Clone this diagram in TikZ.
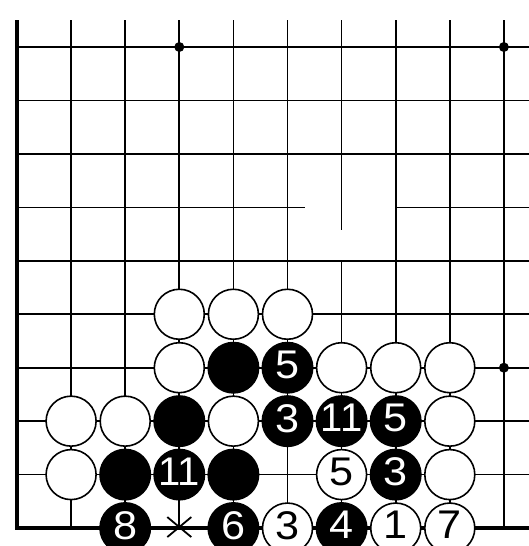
\documentclass[tikz,border=0pt]{standalone}
\usepackage{fontspec}
\setmainfont{Liberation Sans}
\usetikzlibrary{calc}
\newcommand{\dg}[1]{\scalebox{1.08}[1]{#1}}
\begin{document}
\begin{tikzpicture}[x=1pt,y=-1pt,
  gridline/.style={line width=1.7pt},
  edgeline/.style={line width=3.3pt, line join=miter},
  stonefont/.style={font=\fontsize{40}{40}\selectfont, text depth=6pt},
  wstone/.style={circle, draw=black, line width=1.6pt, fill=white, minimum size=50pt, inner sep=-4pt, stonefont, text=black},
  bstone/.style={circle, fill=black, minimum size=52pt, inner sep=-4pt, stonefont, text=white},
  hoshi/.style={circle, fill=black, minimum size=10pt, inner sep=0pt},
  markline/.style={line width=1.8pt}]
\useasboundingbox (0,0) rectangle (529,546);
\clip (0,0) rectangle (529,546);
% grid points
\foreach \i in {0,...,9}{
  \foreach \j in {0,...,9}{
    \coordinate (p-\i-\j) at ({17+54.1*\i},{47+53.45*\j});
  }
}
% top and right ends of lines
\foreach \i in {0,...,9}{ \coordinate (t-\i) at ({17+54.1*\i},20); }
\foreach \j in {0,...,9}{ \coordinate (r-\j) at (529,{47+53.45*\j}); }
% horizontal lines
\foreach \j in {0,1,2,4,5,6,7,8}{ \draw[gridline] (p-0-\j) -- (r-\j); }
\coordinate (g3a) at (305,{47+53.45*3});
\coordinate (g3b) at (395,{47+53.45*3});
\draw[gridline] (p-0-3) -- (g3a);
\draw[gridline] (g3b) -- (r-3);
% vertical lines
\foreach \i in {1,2,3,4,5,7,8,9}{ \draw[gridline] (t-\i) -- (p-\i-9); }
\coordinate (g6a) at ({17+54.1*6},230);
\coordinate (g6b) at ({17+54.1*6},260);
\draw[gridline] (t-6) -- (g6a);
\draw[gridline] (g6b) -- (p-6-9);
% board edges
\draw[edgeline] (t-0) -- (p-0-9) -- (r-9);
% star points
\node[hoshi] (h1) at (p-3-0) {};
\node[hoshi] (h2) at (p-9-0) {};
\node[hoshi] (h3) at (p-9-6) {};
% marked point
\draw[markline] ($(p-3-9)+(-12,-11)$) -- ($(p-3-9)+(12,9)$);
\draw[markline] ($(p-3-9)+(12,-11)$) -- ($(p-3-9)+(-12,9)$);
% row 5
\node[wstone] (s-3-5) at (p-3-5) {};
\node[wstone] (s-4-5) at (p-4-5) {};
\node[wstone] (s-5-5) at (p-5-5) {};
% row 6
\node[wstone] (s-3-6) at (p-3-6) {};
\node[bstone] (s-4-6) at (p-4-6) {};
\node[bstone] (s-5-6) at (p-5-6) {\dg{5}};
\node[wstone] (s-6-6) at (p-6-6) {};
\node[wstone] (s-7-6) at (p-7-6) {};
\node[wstone] (s-8-6) at (p-8-6) {};
% row 7
\node[wstone] (s-1-7) at (p-1-7) {};
\node[wstone] (s-2-7) at (p-2-7) {};
\node[bstone] (s-3-7) at (p-3-7) {};
\node[wstone] (s-4-7) at (p-4-7) {};
\node[bstone] (s-5-7) at (p-5-7) {\dg{3}};
\node[bstone] (s-6-7) at (p-6-7) {11};
\node[bstone] (s-7-7) at (p-7-7) {\dg{5}};
\node[wstone] (s-8-7) at (p-8-7) {};
% row 8
\node[wstone] (s-1-8) at (p-1-8) {};
\node[bstone] (s-2-8) at (p-2-8) {};
\node[bstone] (s-3-8) at (p-3-8) {11};
\node[bstone] (s-4-8) at (p-4-8) {};
\node[wstone] (s-6-8) at (p-6-8) {\dg{5}};
\node[bstone] (s-7-8) at (p-7-8) {\dg{3}};
\node[wstone] (s-8-8) at (p-8-8) {};
% row 9
\node[bstone] (s-2-9) at (p-2-9) {\dg{8}};
\node[bstone] (s-4-9) at (p-4-9) {\dg{6}};
\node[wstone] (s-5-9) at (p-5-9) {\dg{3}};
\node[bstone] (s-6-9) at (p-6-9) {\dg{4}};
\node[wstone] (s-7-9) at (p-7-9) {\dg{1}};
\node[wstone] (s-8-9) at (p-8-9) {\dg{7}};
\end{tikzpicture}
\end{document}
